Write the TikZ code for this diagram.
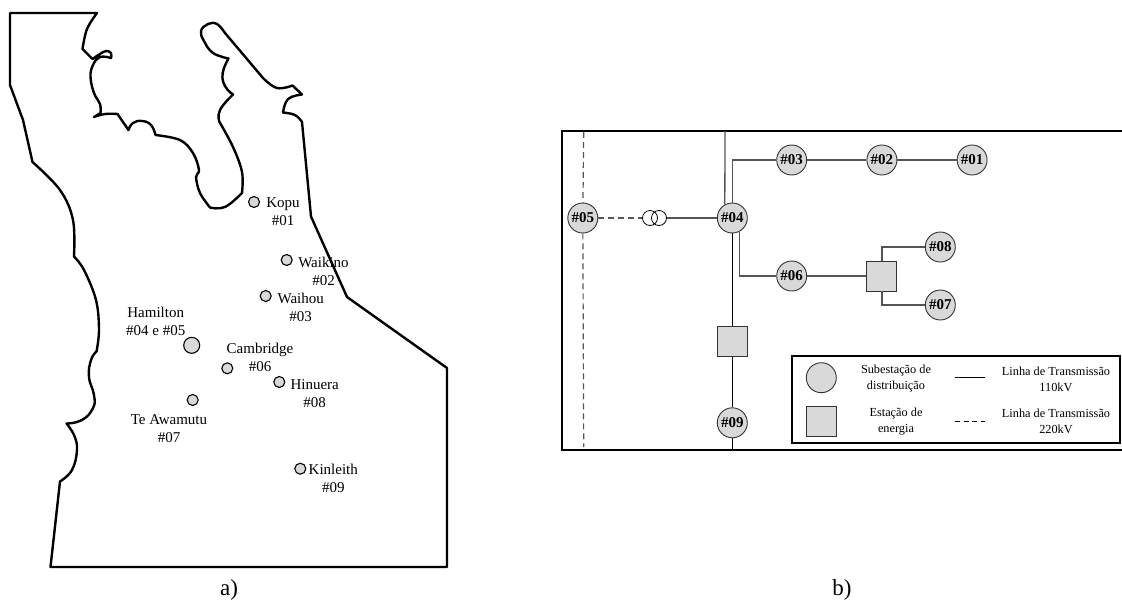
\documentclass[tikz,border=0pt]{standalone}
\usepackage{fontspec}
\setmainfont{Liberation Serif}
\usepackage{tikz}
\usetikzlibrary{positioning}
\definecolor{subfill}{HTML}{D9D9D9}
\definecolor{wire}{HTML}{555555}

\begin{document}
\begin{tikzpicture}[x=1pt,y=-1pt,every node/.style={align=center,font=\fontsize{12.3}{16}\selectfont},
subst/.style={circle,draw=black!80,fill=subfill,line width=0.9pt,minimum size=30pt,inner sep=0pt,font=\fontsize{15}{18}\selectfont\bfseries},
plant/.style={rectangle,draw=black!80,fill=subfill,line width=0.9pt,minimum size=30pt,inner sep=0pt},
site/.style={circle,draw=black,fill=subfill,line width=1.1pt,minimum size=11pt,inner sep=0pt},
town/.style={font=\fontsize{15}{18}\selectfont},
coil/.style={circle,draw=black,line width=0.8pt,minimum size=15pt,inner sep=0pt},
line110/.style={draw=wire,line width=1.3pt},
line220/.style={draw=wire,line width=1.2pt,dash pattern=on 6pt off 4pt},
tag/.style={font=\fontsize{23}{25}\selectfont}]
\useasboundingbox (0,0) rectangle (1122,600);
% a) map
\draw[line width=2.4pt,line join=round]
 (10,13) -- (97,13)
 -- plot[smooth,tension=0.6] coordinates {(97,13) (87,29) (82.5,49)} -- (92.5,59)
 -- plot[smooth,tension=0.7] coordinates {(92.5,59) (100,54) (106,51) (111,53) (111,58)}
 -- plot[smooth,tension=0.7] coordinates {(111,58) (100,57) (93,65) (90.5,77) (94,93) (100,104) (100.5,113)} -- (94,117)
 -- plot[smooth,tension=0.7] coordinates {(94,117) (105,114) (117.5,114)} -- (128.5,130)
 -- plot[smooth,tension=0.8] coordinates {(128.5,130) (133,123) (142,121) (151,125) (155.5,135)}
 -- plot[smooth,tension=0.6] coordinates {(155.5,135) (180,140) (193,153) (199,170) (196,177) (200,193) (210,207.5)}
 -- plot[smooth,tension=0.7] coordinates {(210,207.5) (225,207) (242,193)}
 -- plot[smooth,tension=0.6] coordinates {(242,193) (242,172) (233,147) (219.5,122)}
 -- plot[smooth,tension=0.8] coordinates {(219.5,122) (220,110) (233,94.5)}
 -- plot[smooth,tension=0.8] coordinates {(233,94.5) (225,86) (222.7,73) (228.5,58.5)}
 -- plot[smooth,tension=0.7] coordinates {(228.5,58.5) (213,53) (204,41) (201,31) (208,24) (217,24) (225,33)} -- (263,78)
 -- plot[smooth,tension=0.7] coordinates {(263,78) (277,88) (292.5,85.5)} -- (302,94.5)
 -- plot[smooth,tension=0.7] coordinates {(302,94.5) (288,99) (283,112.5)}
 -- plot[smooth,tension=0.7] coordinates {(283,112.5) (295,115) (302,122)} -- (311,216.5) -- (347,297) -- (447,368) -- (447,567) -- (50.5,567) -- (60,481.5)
 -- plot[smooth,tension=0.7] coordinates {(60,481.5) (72,470) (77,450) (74,435) (66.5,423.5)}
 -- plot[smooth,tension=0.8] coordinates {(66.5,423.5) (82,420) (93,408) (94,395) (89,377) (91,360) (96.5,351.5)}
 -- plot[smooth,tension=0.6] coordinates {(96.5,351.5) (99,330) (96,300) (84,270) (74,256.5)}
 -- plot[smooth,tension=0.6] coordinates {(74,256.5) (73,220) (60,190) (32.5,162)} -- (23,120) -- (10,85) -- cycle;
\node[site] (kopu) at (254,202) {};
\node[site] (waikino) at (286.7,260) {};
\node[site] (waihou) at (265.7,296) {};
\node[site,minimum size=16pt] (hamilton) at (191.7,345.3) {};
\node[site] (cambridge) at (227.3,368.3) {};
\node[site] (hinuera) at (279.3,382) {};
\node[site] (teawamutu) at (192.7,400) {};
\node[site] (kinleith) at (300.3,468.7) {};
\node[town] (lkopu) at (283,212) {Kopu\\\#01};
\node[town] (lwaikino) at (323.5,271) {Waikino\\\#02};
\node[town] (lwaihou) at (300.7,307) {Waihou\\\#03};
\node[town] (lhamilton) at (155.7,321.5) {Hamilton\\\#04 e \#05};
\node[town] (lcambridge) at (260,357) {Cambridge\\\#06};
\node[town] (lhinuera) at (314.7,393.5) {Hinuera\\\#08};
\node[town] (lteawamutu) at (169,429) {Te Awamutu\\\#07};
\node[town] (lkinleith) at (333.3,478) {Kinleith\\\#09};
\node[tag] (taga) at (229,590) {a)};
% b) one-line diagram
\coordinate (ftr) at (1122,131);
\coordinate (ftl) at (562,131);
\coordinate (fbl) at (562,450);
\coordinate (fbr) at (1122,450);
\draw[line width=2.2pt] (ftr) -- (ftl) -- (fbl) -- (fbr);
\node[subst] (n04) at (732.3,218) {\#04};
\node[subst,left=118.6pt of n04] (n05) {\#05};
\node[subst] (n03) at (791.7,160) {\#03};
\node[subst,right=59.3pt of n03] (n02) {\#02};
\node[subst,right=59.3pt of n02] (n01) {\#01};
\node[subst] (n06) at (791.7,276) {\#06};
\node[plant,right=59.3pt of n06] (p1) {};
\node[subst] (n08) at (940.3,247) {\#08};
\node[subst] (n07) at (940.3,305) {\#07};
\node[plant,below=93pt of n04] (p2) {};
\node[subst,below=50pt of p2] (n09) {\#09};
\node[coil] (tr1) at (650,218) {};
\node[coil] (tr2) at (659,218) {};
\coordinate (t04) at (725,131);
\draw[line110] (t04) -- (n04.119);
\draw[line110] (n04.north) |- (n03.west);
\draw[line110] (n03) -- (n02);
\draw[line110] (n02) -- (n01);
\draw[line110] (n04.-61) |- (n06.west);
\draw[line110] (n06) -- (p1);
\draw[line110] (p1.north) |- (n08.west);
\draw[line110] (p1.south) |- (n07.west);
\draw[line110] (tr2) -- (n04);
\draw[line110,draw=black] (n04) -- (p2);
\draw[line110,draw=black] (p2) -- (n09);
\draw[line110,draw=black] (n09) -- (n09 |- fbl);
\draw[line220] (n05) -- (tr1);
\coordinate (t05) at (583.7,132);
\coordinate (b05) at (583.7,447);
\draw[line220] (t05) -- (n05);
\draw[line220] (n05) -- (b05);
% legend
\draw[line width=2.2pt] (791.7,355.7) rectangle (1120,442.7);
\node[subst] (ksub) at (821.3,377.7) {};
\node[plant] (kplant) at (821.3,421) {};
\node (tsub) at (896,379) {Subesta\c{c}\~ao de\\distribui\c{c}\~ao};
\node (tplant) at (896,421.7) {Esta\c{c}\~ao de\\energia};
\coordinate (a110) at (955.3,377.7);
\coordinate (b110) at (985.3,377.7);
\coordinate (a220) at (955.3,421);
\coordinate (b220) at (985.3,421);
\draw[line width=1pt] (a110) -- (b110);
\draw[line width=1pt,dash pattern=on 5pt off 3.5pt] (a220) -- (b220);
\node (t110) at (1056,379) {Linha de Transmiss\~ao\\110kV};
\node (t220) at (1056,421.7) {Linha de Transmiss\~ao\\220kV};
\node[tag] (tagb) at (842,590) {b)};
\end{tikzpicture}
\end{document}
